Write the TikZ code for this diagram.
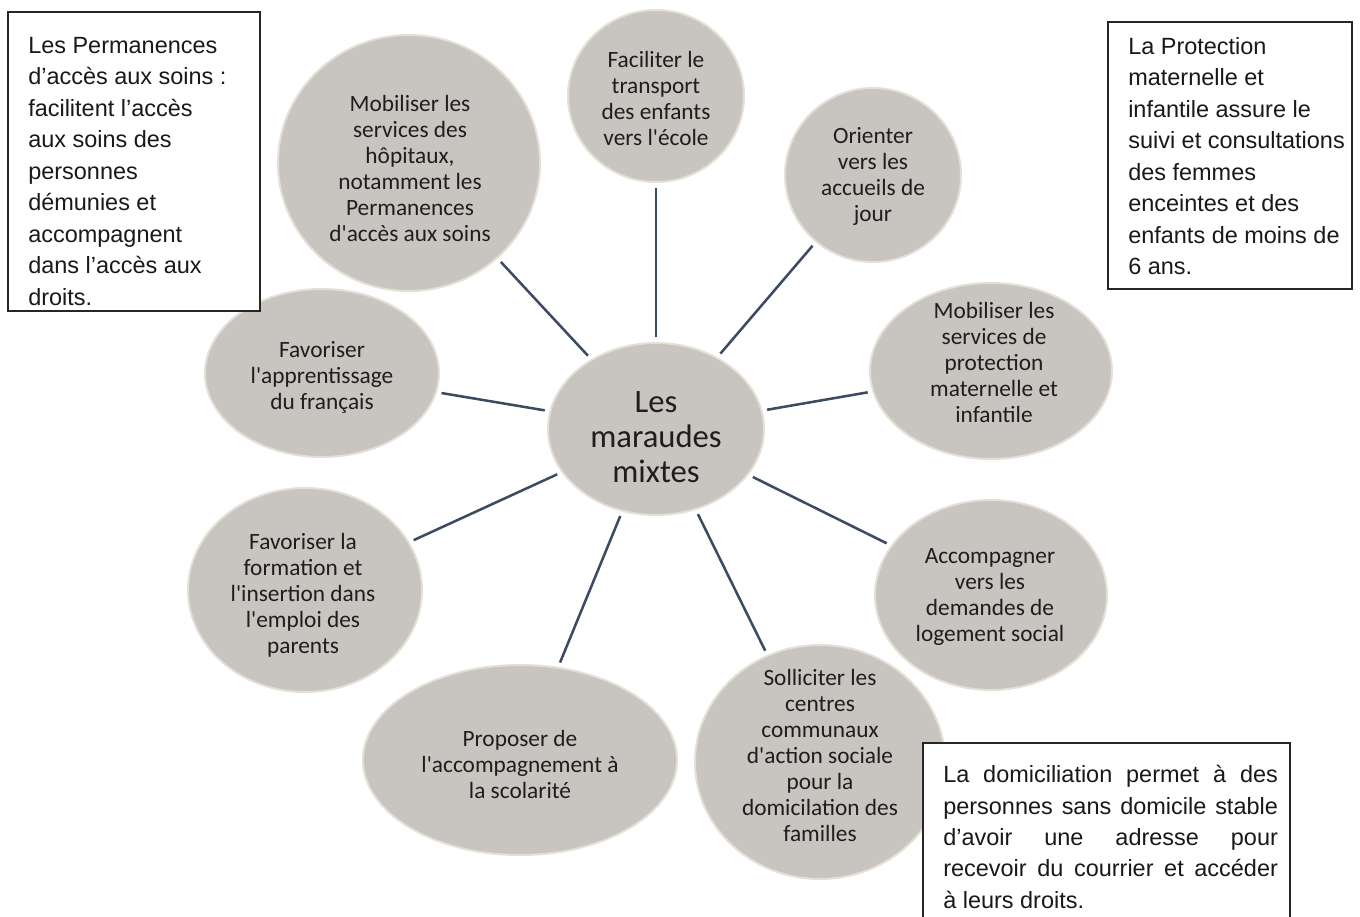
\documentclass[tikz,border=0pt]{standalone}
\usepackage{fontspec}
\setmainfont{Carlito}
\newfontfamily\arialf{Liberation Sans}
\usetikzlibrary{shapes.geometric}
\definecolor{bubblefill}{HTML}{C8C4BF}
\definecolor{bubbleedge}{HTML}{E4E0D6}
\definecolor{linkcol}{HTML}{3C4A62}
\definecolor{txtcol}{HTML}{1E1E1E}
\newcommand{\ap}{\textquotesingle}
\begin{document}
\begin{tikzpicture}[x=0.75pt,y=-0.75pt,
  bubble/.style={ellipse, fill=bubblefill, draw=bubbleedge, line width=1.5pt, inner sep=0pt},
  btext/.style={align=center, text=txtcol, font=\fontsize{17.5}{19.5}\selectfont, inner sep=0pt},
  ctext/.style={align=center, text=txtcol, font=\fontsize{24.5}{26}\selectfont, inner sep=0pt},
  link/.style={draw=linkcol, line width=1.9pt, shorten <=3.5pt, shorten >=3.5pt},
  infobox/.style={draw=black!85, line width=0.9pt, fill=white},
  infotext/.style={align=left, text=black!90, font=\arialf\fontsize{17.6}{23.6}\selectfont, inner sep=0pt, anchor=north west}
]
\useasboundingbox (0,0) rectangle (1360,917);

% bubbles
\node[bubble, minimum width=162pt, minimum height=129pt] (c) at (656,429) {};
\node[bubble, minimum width=132pt, minimum height=129pt] (n1) at (656,96) {};
\node[bubble, minimum width=132pt, minimum height=130.5pt] (n2) at (873,175) {};
\node[bubble, minimum width=181.5pt, minimum height=132pt] (n3) at (991,371) {};
\node[bubble, minimum width=174pt, minimum height=142.5pt] (n4) at (991,595) {};
\node[bubble, minimum width=187.5pt, minimum height=175.5pt] (n5) at (820,762) {};
\node[bubble, minimum width=235.5pt, minimum height=142.5pt] (n6) at (520,760) {};
\node[bubble, minimum width=175.5pt, minimum height=153pt] (n7) at (305,590) {};
\node[bubble, minimum width=175.5pt, minimum height=126pt] (n8) at (322,373) {};
\node[bubble, minimum width=196.5pt, minimum height=192pt] (n9) at (409,163) {};

% texts
\node[ctext] (ct) at (656,437) {Les\\maraudes\\mixtes};
\node[btext] (t1) at (656,98) {Faciliter le\\transport\\des enfants\\vers l\ap école};
\node[btext] (t2) at (873,176) {Orienter\\vers les\\accueils de\\jour};
\node[btext] (t3) at (994,362) {Mobiliser les\\services de\\protection\\maternelle et\\infantile};
\node[btext] (t4) at (990,597) {Accompagner\\vers les\\demandes de\\logement social};
\node[btext] (t5) at (820,755) {Solliciter les\\centres\\communaux\\d\ap action sociale\\pour la\\domicilation des\\familles};
\node[btext] (t6) at (520,764) {Proposer de\\l\ap accompagnement à\\la scolarité};
\node[btext] (t7) at (303,595) {Favoriser la\\formation et\\l\ap insertion dans\\l\ap emploi des\\parents};
\node[btext] (t8) at (322,377) {Favoriser\\l\ap apprentissage\\du français};
\node[btext] (t9) at (410,168) {Mobiliser les\\services des\\hôpitaux,\\notamment les\\Permanences\\d\ap accès aux soins};

% connectors
\draw[link] (c) -- (n1);
\draw[link] (c) -- (n2);
\draw[link] (c) -- (n3);
\draw[link] (c) -- (n4);
\draw[link] (c) -- (n5);
\draw[link] (c) -- (n6);
\draw[link] (c) -- (n7);
\draw[link] (c) -- (n8);
\draw[link] (c) -- (n9);

% info boxes
\draw[infobox] (8,12) rectangle (260,311);
\node[infotext] (b1) at (28,37) {Les Permanences\\d’accès aux soins :\\facilitent l’accès\\aux soins des\\personnes\\démunies et\\accompagnent\\dans l’accès aux\\droits.};

\draw[infobox] (1108,22) rectangle (1352,289);
\node[infotext] (b2) at (1128,37) {La Protection\\maternelle et\\infantile assure le\\suivi et consultations\\des femmes\\enceintes et des\\enfants de moins de\\6 ans.};

\draw[infobox] (923,743) rectangle (1290,930);
\node[infotext] (b3) at (943,765) {\makebox[251pt][s]{La domiciliation permet à des}\\\makebox[251pt][s]{personnes sans domicile stable}\\\makebox[251pt][s]{d’avoir une adresse pour}\\\makebox[251pt][s]{recevoir du courrier et accéder}\\à leurs droits.};
\end{tikzpicture}
\end{document}
